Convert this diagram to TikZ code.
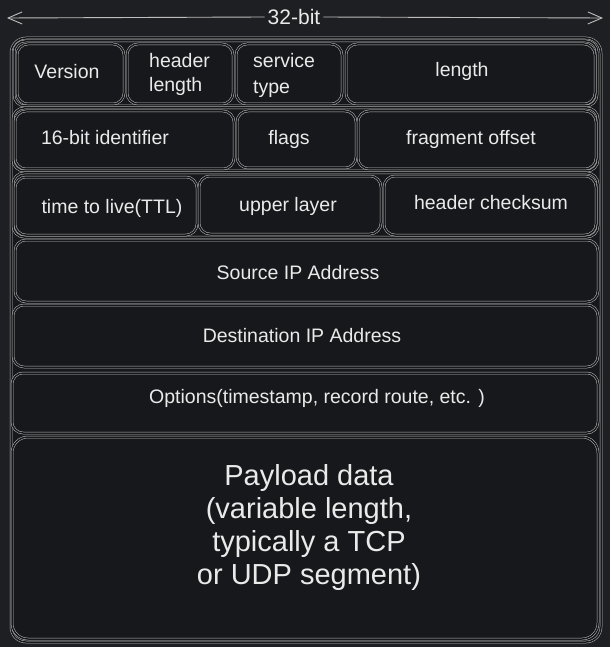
\documentclass[tikz,border=0pt]{standalone}
\usepackage{fontspec}
\setmainfont{Liberation Sans}
\usetikzlibrary{arrows.meta}
\definecolor{bg}{HTML}{1E1F22}
\definecolor{boxbg}{HTML}{17181B}
\definecolor{ln}{HTML}{BEBEBE}
\definecolor{tx}{HTML}{EAEAEA}
\newcommand\skb[6][11pt]{\node[sk,rounded corners=#1,minimum width={#5-#3},minimum height={#6-#4}] (#2) at ({(#3+#5)/2},{(#4+#6)/2}) {};}
\begin{document}
\begin{tikzpicture}[x=1pt,y=-1pt,
  sk/.style={draw=ln, line width=0.5pt, double=boxbg, double distance=1.5pt, fill=boxbg, inner sep=0pt, outer sep=0pt},
  txt/.style={text=tx, inner sep=0pt, font=\fontsize{19.5}{24}\selectfont, anchor=base},
  big/.style={text=tx, inner sep=0pt, font=\fontsize{29}{33}\selectfont, align=center},
  arr/.style={draw=ln, line width=0.9pt, -{Straight Barb[length=14pt,width=12pt]}}]
\fill[bg] (0,0) rectangle (610,647);
\useasboundingbox (0,0) rectangle (610,647);

% 32-bit arrow
\coordinate (aL) at (7,18);
\coordinate (aR) at (603,18);
\node[txt, anchor=center, inner xsep=3pt, font=\fontsize{21}{24}\selectfont] (bits) at (294,17) {32-bit};
\draw[arr] (bits.west) -- (aL);
\draw[arr] (bits.east) -- (aR);

% outer frame
\skb[15pt]{outer}{11}{38}{601}{642}

% row frames
\skb{row1}{14}{41}{597}{106}
\skb{row2}{13}{108}{598}{171}
\skb{row3}{13}{173}{598}{237}

% row 1
\skb{bver}{17}{44}{124}{104}
\skb{bhl}{127}{44}{233}{104}
\skb{bst}{236}{44}{342}{104}
\skb{blen}{346}{44}{595}{104}
% row 2
\skb{bid}{15}{111}{234}{169}
\skb{bfl}{237}{111}{356}{168}
\skb{bfo}{358}{111}{596}{169}
% row 3
\skb{bttl}{15}{177}{197}{235}
\skb{bul}{199}{176}{381}{234}
\skb{bhc}{384}{176}{596}{235}
% full rows
\skb{bsrc}{15}{240}{598}{302}
\skb{bdst}{13}{305}{598}{367}
\skb{bopt}{12}{373}{598}{433}
\skb[16pt]{bpay}{12}{437}{598}{639}

% texts
\node[txt] (tver) at (67,79) {Version};
\node[txt, anchor=base west] (thl1) at (149,68) {header};
\node[txt, anchor=base west] (thl2) at (149,92) {length};
\node[txt, anchor=base west] (tst1) at (253,68) {service};
\node[txt, anchor=base west] (tst2) at (253,94) {type};
\node[txt] (tlen) at (462,77) {length};

\node[txt] (tid) at (105,145) {16-bit identifier};
\node[txt] (tfl) at (289,145) {flags};
\node[txt] (tfo) at (471,145) {fragment offset};

\node[txt] (tttl) at (112,213) {time to live(TTL)};
\node[txt] (tul) at (288,211) {upper layer};
\node[txt] (thc) at (491,209) {header checksum};

\node[txt] (tsrc) at (298,279) {Source IP Address};
\node[txt] (tdst) at (302,342) {Destination IP Address};
\node[txt] (topt) at (317,403) {Options(timestamp, record route, etc. )};

\node[big] (tpay) at (309,527) {Payload data\\(variable length,\\typically a TCP\\or UDP segment)};
\end{tikzpicture}
\end{document}
